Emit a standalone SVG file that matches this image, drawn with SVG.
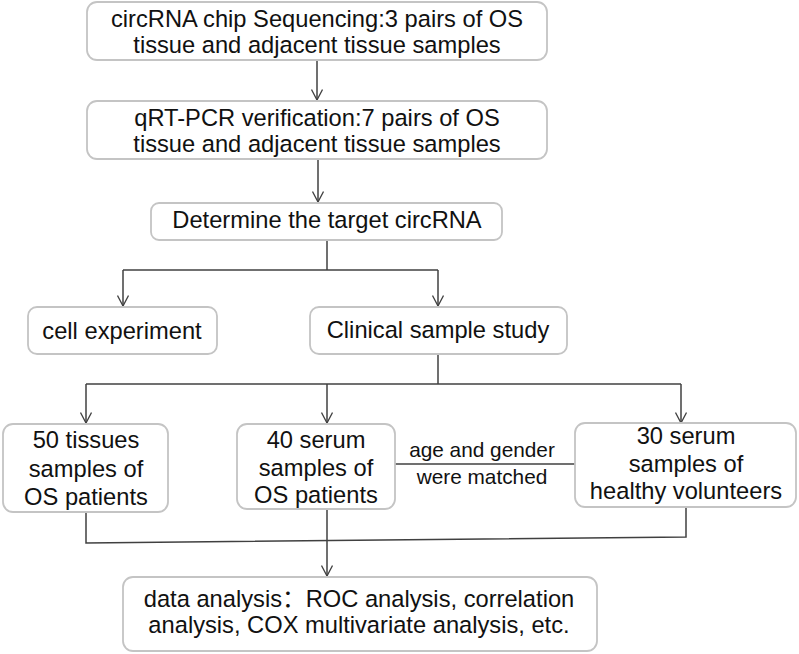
<svg xmlns="http://www.w3.org/2000/svg" width="799" height="654" viewBox="0 0 799 654">
<defs>
<marker id="arr" viewBox="0 0 12 12" refX="11" refY="6" markerWidth="12" markerHeight="12" markerUnits="userSpaceOnUse" orient="auto">
<path d="M0.5,0.5 L11,6 L0.5,11.5" fill="none" stroke="#404040" stroke-width="1.3"/>
</marker>
</defs>
<style>
.box{fill:#fff;stroke:#c4c4c4;stroke-width:1.8}
.t{font-family:"Liberation Sans",Arial,"Noto Sans CJK SC",sans-serif;font-size:23.7px;fill:#111;text-anchor:middle}
.s{font-family:"Liberation Sans",Arial,sans-serif;font-size:20.8px;fill:#111;text-anchor:middle}
.c{fill:none;stroke:#404040;stroke-width:1.5}
</style>
<rect width="799" height="654" fill="#fff"/>
<g id="connectors">
<path class="c" d="M317,60 V100" marker-end="url(#arr)"/>
<path class="c" d="M318,159 V202" marker-end="url(#arr)"/>
<path class="c" d="M327,240 V270"/>
<path class="c" d="M123,270 H438"/>
<path class="c" d="M123,270 V306" marker-end="url(#arr)"/>
<path class="c" d="M438,270 V306" marker-end="url(#arr)"/>
<path class="c" d="M438,354 V384"/>
<path class="c" d="M86,384 H681"/>
<path class="c" d="M86,384 V423" marker-end="url(#arr)"/>
<path class="c" d="M327,384 V423" marker-end="url(#arr)"/>
<path class="c" d="M681,384 V423" marker-end="url(#arr)"/>
<path class="c" d="M395,464 H575"/>
<path class="c" d="M86,512 V543 L686,537 V507"/>
<path class="c" d="M327,509 V576" marker-end="url(#arr)"/>
</g>
<g id="n1"><rect class="box" x="87" y="2" width="460" height="58" rx="10"/>
<text class="t" x="317" y="27">circRNA chip Sequencing:3 pairs of OS</text>
<text class="t" x="317" y="53">tissue and adjacent tissue samples</text></g>
<g id="n2"><rect class="box" x="87" y="101" width="460" height="58" rx="10"/>
<text class="t" x="317" y="126">qRT-PCR verification:7 pairs of OS</text>
<text class="t" x="317" y="152">tissue and adjacent tissue samples</text></g>
<g id="n3"><rect class="box" x="151" y="203" width="351" height="37" rx="8"/>
<text class="t" x="327" y="228">Determine the target circRNA</text></g>
<g id="n4"><rect class="box" x="28" y="307" width="189" height="47" rx="9"/>
<text class="t" x="122" y="339">cell experiment</text></g>
<g id="n5"><rect class="box" x="310" y="307" width="257" height="47" rx="9"/>
<text class="t" x="438" y="338">Clinical sample study</text></g>
<g id="n6"><rect class="box" x="3" y="424" width="165" height="88" rx="10"/>
<text class="t" x="86" y="448">50 tissues</text>
<text class="t" x="86" y="477">samples of</text>
<text class="t" x="86" y="505">OS patients</text></g>
<g id="n7"><rect class="box" x="237" y="424" width="158" height="85" rx="10"/>
<text class="t" x="316" y="448">40 serum</text>
<text class="t" x="316" y="476">samples of</text>
<text class="t" x="316" y="503">OS patients</text></g>
<g id="n8"><rect class="box" x="575" y="423" width="221" height="84" rx="10"/>
<text class="t" x="686" y="444">30 serum</text>
<text class="t" x="686" y="472">samples of</text>
<text class="t" x="686" y="499">healthy volunteers</text></g>
<text class="s" x="482" y="457">age and gender</text>
<text class="s" x="482" y="484">were matched</text>
<g id="n9"><rect class="box" x="123" y="577" width="474" height="74" rx="10"/>
<text class="t" x="359" y="607">data analysis：ROC analysis, correlation</text>
<text class="t" x="359" y="633">analysis, COX multivariate analysis, etc.</text></g>
</svg>
